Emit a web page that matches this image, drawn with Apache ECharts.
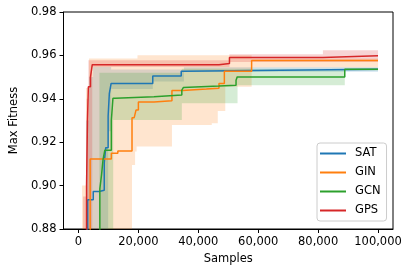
<!DOCTYPE html>
<html>
<head>
<meta charset="utf-8">
<script src="https://cdn.jsdelivr.net/npm/echarts@6/dist/echarts.min.js"></script>
<style>html,body{margin:0;padding:0;background:#fff;}#c{width:407px;height:273px;}</style>
</head>
<body>
<div id="c"></div>
<script>
// ---- data ----
const xTicks = [0, 20000, 40000, 60000, 80000, 100000];
const yTicks = [0.88, 0.90, 0.92, 0.94, 0.96, 0.98];
const seriesNames = ['SAT', 'GIN', 'GCN', 'GPS'];

// mean curves (step, value holds until next sample)
const satX = [1500, 3080, 4930, 6900, 8600, 9100, 9900, 10300, 10900, 24800, 34300, 35200, 100000];
const satY = [0.86, 0.8935, 0.8973, 0.8979, 0.9105, 0.9175, 0.9320, 0.9425, 0.9471, 0.9505, 0.9527, 0.9536, 0.9536];
const ginX = [1500, 3900, 10970, 13140, 17870, 18600, 19200, 20000, 25200, 31200, 34800, 42700, 46900, 48700, 57800, 100000];
const ginY = [0.86, 0.9123, 0.9149, 0.9160, 0.9313, 0.9320, 0.9348, 0.9385, 0.9391, 0.9438, 0.9445, 0.9449, 0.9471, 0.9527, 0.9577, 0.9577];
const gcnX = [1500, 7130, 7700, 8200, 8800, 10970, 11500, 12300, 25200, 34500, 35000, 35600, 46900, 52600, 53000, 88900, 100000];
const gcnY = [0.85, 0.8985, 0.905, 0.912, 0.9163, 0.930, 0.9402, 0.9409, 0.9417, 0.944, 0.9452, 0.9459, 0.9463, 0.9486, 0.9501, 0.9536, 0.9536];
const gpsX = [1500, 2700, 3000, 3300, 4000, 4600, 46900, 50400, 81600, 100000];
const gpsY = [0.85, 0.90, 0.93, 0.9455, 0.950, 0.9557, 0.9563, 0.959, 0.9598, 0.9598];

// spread bands (lower / upper)
const satBX = [1500, 2500, 3500, 4900, 9500, 9900, 10900, 24800, 35200, 100000];
const satLo = [0.85, 0.85, 0.85, 0.85, 0.85, 0.925, 0.9445, 0.948, 0.9525, 0.9525];
const satHi = [0.87, 0.93, 0.950, 0.9546, 0.9546, 0.9546, 0.9535, 0.9535, 0.9545, 0.9545];
const ginBX = [1200, 2500, 3500, 17870, 18900, 19400, 19700, 31200, 44500, 46500, 49000, 57800, 100000];
const ginLo = [0.85, 0.85, 0.85, 0.9095, 0.9157, 0.918, 0.918, 0.9279, 0.9287, 0.9344, 0.9455, 0.9544, 0.9544];
const ginHi = [0.90, 0.945, 0.9586, 0.9586, 0.9586, 0.9586, 0.9601, 0.9601, 0.9601, 0.9601, 0.9601, 0.9586, 0.9586];
const gcnBX = [6000, 7000, 11600, 34500, 53100, 88900, 100000];
const gcnLo = [0.85, 0.85, 0.9302, 0.938, 0.9463, 0.9530, 0.9530];
const gcnHi = [0.87, 0.952, 0.952, 0.9538, 0.9538, 0.954, 0.954];
const gpsBX = [1000, 1500, 2700, 3300, 4600, 50400, 81600, 100000];
const gpsLo = [0.85, 0.85, 0.85, 0.85, 0.9547, 0.957, 0.957, 0.957];
const gpsHi = [0.87, 0.895, 0.94, 0.9578, 0.9578, 0.9605, 0.9624, 0.9624];

const colors = ['#1f77b4', '#ff7f0e', '#2ca02c', '#d62728'];

// ---- build ----
const Y_MIN = 0.88, Y_MAX = 0.98;
const pair = (xs, ys) => xs.map((x, i) => [x, ys[i]]);
const lines = [[satX, satY], [ginX, ginY], [gcnX, gcnY], [gpsX, gpsY]];
const bands = [[satBX, satLo, satHi], [ginBX, ginLo, ginHi], [gcnBX, gcnLo, gcnHi], [gpsBX, gpsLo, gpsHi]];
const clampY = v => Math.max(Y_MIN, Math.min(Y_MAX, v));

function bandRenderer(bx, lo, hi, color) {
  return function (params, api) {
    if (params.dataIndex !== 0) return null;
    const up = [], dn = [];
    for (let i = 0; i < bx.length - 1; i++) {
      up.push(api.coord([bx[i], clampY(hi[i])]), api.coord([bx[i + 1], clampY(hi[i])]));
      dn.push(api.coord([bx[i], clampY(lo[i])]), api.coord([bx[i + 1], clampY(lo[i])]));
    }
    return {
      type: 'polygon',
      shape: { points: up.concat(dn.reverse()) },
      style: { fill: color, opacity: 0.2 }
    };
  };
}

const series = [];
bands.forEach((b, k) => {
  const [bx, lo, hi] = b;
  series.push({
    type: 'custom', silent: true, z: 1,
    renderItem: bandRenderer(bx, lo, hi, colors[k]),
    encode: { x: 0, y: 1 },
    data: pair(bx, lo)
  });
});
lines.forEach((l, k) => {
  series.push({
    name: seriesNames[k], type: 'line', step: 'end', symbol: 'none',
    data: pair(l[0], l[1]), lineStyle: { color: colors[k], width: 1.5 },
    itemStyle: { color: colors[k] }, z: 3 + k
  });
});

const font = 'DejaVu Sans';
const fs = 11.5;
const chart = echarts.init(document.getElementById('c'), null, { renderer: 'canvas' });
chart.setOption({
  animation: false,
  backgroundColor: '#fff',
  grid: { left: 58, right: 14, top: 12, bottom: 44, show: true, borderColor: '#000', borderWidth: 1, backgroundColor: 'transparent' },
  xAxis: {
    type: 'value', min: -5000, max: 105000,
    name: 'Samples', nameLocation: 'middle', nameGap: 24,
    nameTextStyle: { fontFamily: font, fontSize: fs, color: '#000' },
    axisLine: { show: true, onZero: false, lineStyle: { color: '#000', width: 1 } },
    axisTick: { show: true, inside: false, length: 4, lineStyle: { color: '#000' }, customValues: xTicks },
    axisLabel: { customValues: xTicks, fontFamily: font, fontSize: fs, color: '#000', margin: 7 },
    splitLine: { show: false }
  },
  yAxis: {
    type: 'value', min: Y_MIN, max: Y_MAX,
    name: 'Max Fitness', nameLocation: 'middle', nameGap: 40,
    nameTextStyle: { fontFamily: font, fontSize: fs, color: '#000' },
    axisLine: { show: true, onZero: false, lineStyle: { color: '#000', width: 1 } },
    axisTick: { show: true, inside: false, length: 4, lineStyle: { color: '#000' }, customValues: yTicks },
    axisLabel: { customValues: yTicks, fontFamily: font, fontSize: fs, color: '#000', margin: 7,
      formatter: v => v.toFixed(2) },
    splitLine: { show: false }
  },
  legend: {
    data: seriesNames, orient: 'vertical', left: 317, top: 143,
    icon: 'rect', itemWidth: 26, itemHeight: 2, itemGap: 6,
    padding: [4, 6, 4, 3],
    backgroundColor: 'rgba(255,255,255,0.8)', borderColor: '#ccc', borderWidth: 1, borderRadius: 3,
    textStyle: { fontFamily: font, fontSize: fs, color: '#000', lineHeight: 13, padding: [0, 0, 0, 4] }
  },
  series: series
});
</script>
</body>
</html>
